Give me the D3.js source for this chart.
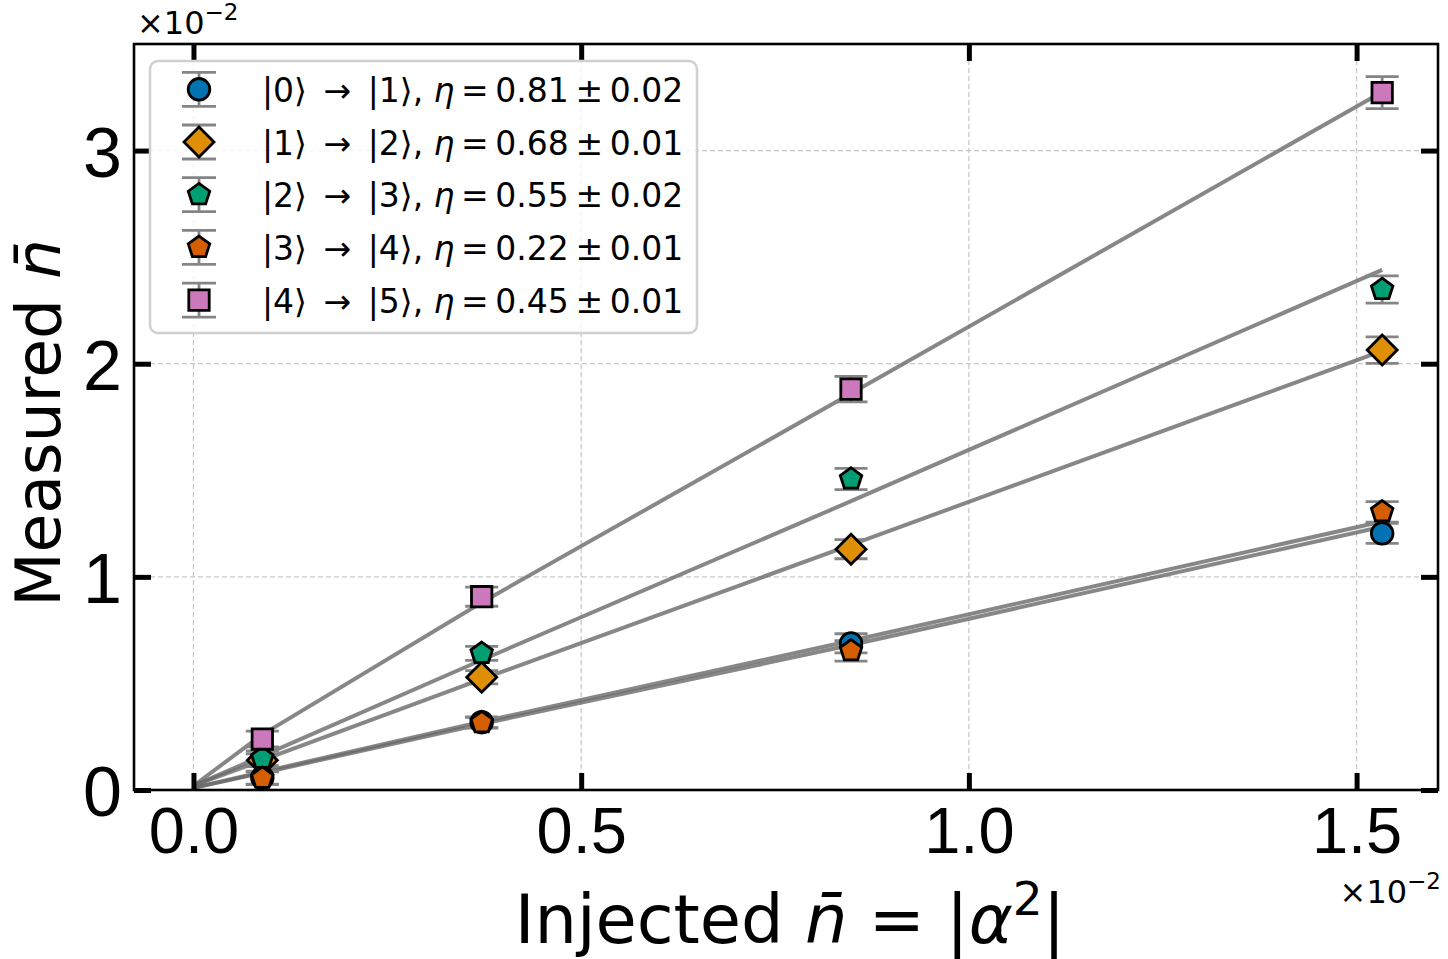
<!DOCTYPE html>
<html>
<head>
<meta charset="utf-8">
<script src="https://cdn.jsdelivr.net/npm/d3@7"></script>
<style>
  body { margin: 0; background: #fff; }
  svg { display: block; font-family: "DejaVu Sans", sans-serif; }
</style>
</head>
<body>
<svg id="chart" width="1448" height="959"></svg>
<script>
// injected photon number (x10^-2) at which each transition was measured
const injected = [0.0888, 0.3717, 0.848, 1.533]
// x positions of the fitted curves (start from the origin)
const fitX = [0, 0.0888, 0.3717, 0.848, 1.533]

const labels = ['0', '1', '2', '3', '4']
const targets = ['1', '2', '3', '4', '5']
const etaValues = ['0.81', '0.68', '0.55', '0.22', '0.45']
const etaErrors = ['0.02', '0.01', '0.02', '0.01', '0.01']

// measured n (x10^-2)
const measured01 = [0.058, 0.318, 0.688, 1.204]
const measured12 = [0.140, 0.529, 1.130, 2.064]
const measured23 = [0.149, 0.641, 1.459, 2.348]
const measured34 = [0.055, 0.316, 0.653, 1.305]
const measured45 = [0.239, 0.907, 1.881, 3.272]

// error bars
const err01 = [0.030, 0.025, 0.045, 0.047]
const err12 = [0.030, 0.031, 0.045, 0.062]
const err23 = [0.035, 0.033, 0.050, 0.064]
const err34 = [0.030, 0.025, 0.048, 0.048]
const err45 = [0.037, 0.045, 0.060, 0.075]

// fitted curves
const fit01 = [0.01, 0.080, 0.310, 0.680, 1.235]
const fit12 = [0.02, 0.140, 0.520, 1.150, 2.060]
const fit23 = [0.02, 0.160, 0.610, 1.355, 2.440]
const fit34 = [0.01, 0.085, 0.320, 0.700, 1.260]
const fit45 = [0.02, 0.260, 0.880, 1.860, 3.275]

const xTicks = [0, 0.5, 1.0, 1.5]
const yTicks = [0, 1, 2, 3]

const series = [
    { y: measured01, err: err01, fit: fit01, color: '#0173b2', shape: 'circle' },
    { y: measured12, err: err12, fit: fit12, color: '#de8f05', shape: 'diamond' },
    { y: measured23, err: err23, fit: fit23, color: '#029e73', shape: 'pentagon' },
    { y: measured34, err: err34, fit: fit34, color: '#d55e00', shape: 'pentagon' },
    { y: measured45, err: err45, fit: fit45, color: '#cc78bc', shape: 'square' },
]

const plotLeft = 134, plotRight = 1438, plotTop = 44, plotBottom = 790

const svg = d3.select('#chart')

const xScale = d3.scaleLinear().domain([-0.0767, 1.605]).range([plotLeft, plotRight])
const yScale = d3.scaleLinear().domain([0, 3.5]).range([plotBottom, plotTop])

const markerPath = {
    circle: r => { const p = d3.path(); p.arc(0, 0, r, 0, 2 * Math.PI); p.closePath(); return p.toString() },
    square: r => `M${-r},${-r}H${r}V${r}H${-r}Z`,
    diamond: r => `M0,${-r}L${r},0L0,${r}L${-r},0Z`,
    pentagon: r => d3.line()(d3.range(5).map(k => {
        const a = -Math.PI / 2 + k * 2 * Math.PI / 5
        return [r * Math.cos(a), r * Math.sin(a)]
    })) + 'Z'
}
const markerSize = { circle: 10.8, square: 10.2, diamond: 15, pentagon: 11.3 }
const edge = 2.8

// grid
const grid = svg.append('g')
grid.selectAll('line.gx').data(xTicks).enter().append('line')
    .attr('x1', d => xScale(d)).attr('x2', d => xScale(d))
    .attr('y1', plotTop).attr('y2', plotBottom)
grid.selectAll('line.gy').data(yTicks).enter().append('line')
    .attr('x1', plotLeft).attr('x2', plotRight)
    .attr('y1', d => yScale(d)).attr('y2', d => yScale(d))
grid.selectAll('line')
    .attr('stroke', '#c8c8c8')
    .attr('stroke-width', 1.3)
    .attr('stroke-dasharray', '5,3')

// fitted curves
const line = d3.line().x((d, i) => xScale(fitX[i])).y(d => yScale(d))
svg.append('g').selectAll('path')
    .data(series).enter().append('path')
    .attr('d', d => line(d.fit))
    .attr('fill', 'none')
    .attr('stroke', 'rgb(105,105,105)')
    .attr('stroke-opacity', 0.8)
    .attr('stroke-width', 4)

// error bars
const capHalf = 16.5
series.forEach(s => {
    const g = svg.append('g').attr('stroke', '#858585').attr('stroke-width', 2.8)
    injected.forEach((xv, i) => {
        const cx = xScale(xv)
        const lo = yScale(s.y[i] - s.err[i]), hi = yScale(s.y[i] + s.err[i])
        g.append('line').attr('x1', cx).attr('x2', cx).attr('y1', lo).attr('y2', hi)
        g.append('line').attr('x1', cx - capHalf).attr('x2', cx + capHalf).attr('y1', lo).attr('y2', lo)
        g.append('line').attr('x1', cx - capHalf).attr('x2', cx + capHalf).attr('y1', hi).attr('y2', hi)
    })
})

// markers
series.forEach(s => {
    svg.append('g').selectAll('path')
        .data(s.y).enter().append('path')
        .attr('d', markerPath[s.shape](markerSize[s.shape]))
        .attr('transform', (d, i) => `translate(${xScale(injected[i])},${yScale(d)})`)
        .attr('fill', s.color)
        .attr('stroke', '#000')
        .attr('stroke-width', edge)
})

// axes, ticks inside on all sides
const tickLen = 17
const xAxis = svg.append('g')
    .attr('transform', `translate(0,${plotBottom})`)
    .call(d3.axisBottom(xScale).tickValues(xTicks).tickFormat(d3.format('.1f'))
        .tickSizeInner(-tickLen).tickSizeOuter(0).tickPadding(17))
xAxis.selectAll('text').attr('font-size', 65).attr('fill', '#000')

const yAxis = svg.append('g')
    .attr('transform', `translate(${plotLeft},0)`)
    .call(d3.axisLeft(yScale).tickValues(yTicks).tickFormat(d3.format('d'))
        .tickSizeInner(-tickLen).tickSizeOuter(0).tickPadding(12))
yAxis.selectAll('text').attr('font-size', 70).attr('fill', '#000').attr('dy', '0.37em')

svg.append('g').attr('transform', `translate(0,${plotTop})`)
    .call(d3.axisTop(xScale).tickValues(xTicks).tickFormat('').tickSizeInner(-tickLen).tickSizeOuter(0))
svg.append('g').attr('transform', `translate(${plotRight},0)`)
    .call(d3.axisRight(yScale).tickValues(yTicks).tickFormat('').tickSizeInner(-tickLen).tickSizeOuter(0))

svg.selectAll('.domain').remove()
svg.selectAll('.tick line').attr('stroke', '#000').attr('stroke-width', 5)

svg.append('rect')
    .attr('x', plotLeft).attr('y', plotTop)
    .attr('width', plotRight - plotLeft).attr('height', plotBottom - plotTop)
    .attr('fill', 'none').attr('stroke', '#000').attr('stroke-width', 2.6)

// offset texts
function offsetText(x, y, anchor) {
    const t = svg.append('text').attr('x', x).attr('y', y)
        .attr('font-size', 32).attr('text-anchor', anchor)
    t.append('tspan').text('×10')
    t.append('tspan').attr('dy', -14).attr('font-size', 23).text('−2')
}
offsetText(137, 34, 'start')
offsetText(1441, 903, 'end')

// axis labels
const xLabel = svg.append('text')
    .attr('x', (plotLeft + plotRight) / 2 + 4).attr('y', 943)
    .attr('text-anchor', 'middle').attr('font-size', 67)
xLabel.append('tspan').text('Injected ')
xLabel.append('tspan').attr('font-style', 'italic').text('n\u0304')
xLabel.append('tspan').text(' = |')
xLabel.append('tspan').attr('font-style', 'italic').text('α')
xLabel.append('tspan').attr('dy', -28).attr('font-size', 47).text('2')
xLabel.append('tspan').attr('dy', 28).text('|')

const yLabel = svg.append('text')
    .attr('transform', `translate(60,${(plotTop + plotBottom) / 2 + 6}) rotate(-90)`)
    .attr('text-anchor', 'middle').attr('font-size', 63)
yLabel.append('tspan').text('Measured ')
yLabel.append('tspan').attr('font-style', 'italic').text('n\u0304')

// legend
const legend = svg.append('g')
legend.append('rect')
    .attr('x', 150).attr('y', 61).attr('width', 547).attr('height', 272).attr('rx', 8)
    .attr('fill', '#fff').attr('fill-opacity', 0.8)
    .attr('stroke', '#d0d0d0').attr('stroke-width', 2.5)

const rowY = i => 89.3 + i * 52.7
series.forEach((s, i) => {
    const g = legend.append('g').attr('transform', `translate(199,${rowY(i)})`)
    g.append('line').attr('x1', 0).attr('x2', 0).attr('y1', -17).attr('y2', 17)
    g.append('line').attr('x1', -17).attr('x2', 17).attr('y1', -17).attr('y2', -17)
    g.append('line').attr('x1', -17).attr('x2', 17).attr('y1', 17).attr('y2', 17)
    g.selectAll('line').attr('stroke', '#858585').attr('stroke-width', 2.8)
    g.append('path')
        .attr('d', markerPath[s.shape](markerSize[s.shape]))
        .attr('fill', s.color).attr('stroke', '#000').attr('stroke-width', edge)

    const t = legend.append('text').attr('x', 262).attr('y', rowY(i) + 12.5)
        .attr('font-size', 33).attr('xml:space', 'preserve')
    t.append('tspan').text(`|${labels[i]}\u27E9\u2002→\u2002|${targets[i]}\u27E9, `)
    t.append('tspan').attr('font-style', 'italic').text('η')
    t.append('tspan').text(`\u2009=\u2009${etaValues[i]}\u2009±\u2009${etaErrors[i]}`)
})
</script>
</body>
</html>
